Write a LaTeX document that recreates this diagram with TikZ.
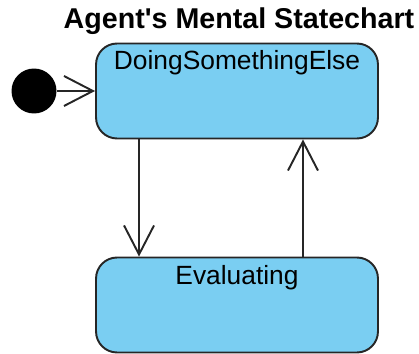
\documentclass[tikz,border=0pt]{standalone}
\usepackage{fontspec}
\setmainfont{Liberation Sans}
\usetikzlibrary{arrows.meta}
\definecolor{stateblue}{RGB}{122,206,242}

\begin{document}
\begin{tikzpicture}[x=0.02cm, y=-0.02cm,
        state/.style={draw=black!85, line width=1.1pt, fill=stateblue, rounded corners=0.42cm, minimum width=5.64cm, minimum height=1.9cm},
        statename/.style={font=\fontsize{15}{18}\selectfont, anchor=north, inner sep=0pt},
        trans/.style={draw=black!85, line width=1.1pt, -{Straight Barb[length=0.58cm, width=0.6cm, line width=1.1pt]}}]
            % Agent statechart
            \useasboundingbox (0,0) rectangle (419,354);

            \node[font=\bfseries\fontsize{16.3}{19}\selectfont] (title) at (239,21) {Agent\textquotesingle s Mental Statechart};

            \node[state] at (237,91) (doing) {};
            \node[state] at (237,305) (eval) {};
            \node[circle, fill=black, minimum size=0.9cm, inner sep=0pt] at (34,91) (init) {};

            \node[statename] at ([yshift=-0.16cm]doing.north) (doingname) {DoingSomethingElse};
            \node[statename] at ([yshift=-0.18cm]eval.north) (evalname) {Evaluating};

            % transitions
            \draw[trans] (init) -- (doing.west);
            \draw[trans] ([xshift=-1.96cm]doing.south) -- ([xshift=-1.96cm]eval.north);
            \draw[trans] ([xshift=1.32cm]eval.north) -- ([xshift=1.32cm]doing.south);
        \end{tikzpicture}
\end{document}
